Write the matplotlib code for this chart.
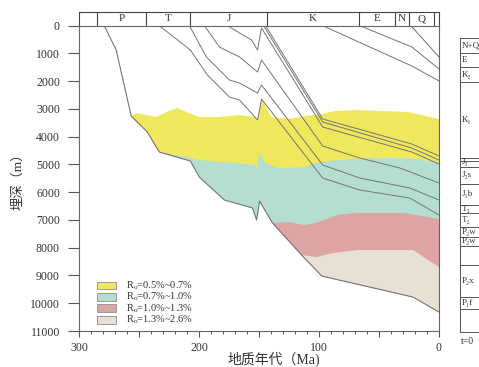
import numpy as np
import matplotlib.pyplot as plt
from matplotlib.patches import Rectangle
from matplotlib.ticker import MultipleLocator, FuncFormatter

plt.rcParams['font.family'] = ['Liberation Serif', 'Noto Sans CJK SC', 'DejaVu Sans']
plt.rcParams['mathtext.fontset'] = 'custom'
plt.rcParams['mathtext.rm'] = 'Liberation Serif'
plt.rcParams['mathtext.it'] = 'Liberation Serif:italic'

# 盆地底界（埋藏史最下面的线）
base_age = [279.0, 269.0, 256.5, 243.1, 233.1, 207.2, 199.7, 178.8, 155.4, 152.0, 149.5,
            143.7, 138.7, 114.5, 97.7, 21.7, 0]
base_dep = [0, 876, 3254, 3831, 4552, 4876, 5457, 6281, 6569, 7002, 6317,
            6750, 7110, 8263, 9020, 9777, 10317]

# Ro 等值线 (上界)
ro05_age = [256.5, 252.3, 243.9, 235.6, 227.2, 218.0, 210.5, 199.7, 183.0, 166.2, 153.7,
            151.2, 147.9, 139.5, 126.1, 111.9, 97.7, 86.9, 70.2, 25.9, 0]
ro05_dep = [3254, 3146, 3218, 3290, 3110, 2966, 3110, 3290, 3290, 3218, 3290,
            3434, 2642, 3290, 3362, 3254, 3182, 3074, 3038, 3110, 3362]

ro07_age = [233.1, 218.9, 199.7, 183.0, 166.2, 153.7, 152.0, 149.5, 145.4, 134.5, 111.9,
            103.6, 84.4, 56.0, 28.4, 0]
ro07_dep = [4552, 4660, 4840, 4912, 4948, 5020, 5128, 4552, 4912, 5128, 5092,
            4948, 4840, 4768, 4768, 4912]

ro10_age = [138.7, 126.1, 111.9, 102.8, 84.4, 70.2, 28.4, 0]
ro10_dep = [7110, 7074, 7182, 7110, 6822, 6750, 6750, 6966]

ro13_age = [114.5, 101.9, 88.6, 68.5, 21.7, 0]
ro13_dep = [8263, 8335, 8191, 8083, 8083, 8696]

ro_labels = ['0.5%~0.7%', '0.7%~1.0%', '1.0%~1.3%', '1.3%~2.6%']
ro_colors = ['#f0e85c', '#b4dfd0', '#dea3a3', '#e8e0d3']

# 各层埋藏曲线
horizons = [
    ([23.4, 0], [0, 1128]),
    ([66.0, 22.6, 0], [0, 768, 1560]),
    ([96.9, 22.6, 0], [0, 1452, 1993]),
    ([144.5, 96.9, 22.6, 0], [0, 3362, 4263, 4696]),
    ([146.2, 96.9, 22.6, 0], [0, 3471, 4408, 4840]),
    ([176.3, 166.2, 156.2, 151.2, 147.9, 96.9, 22.6, 0],
     [0, 263, 515, 876, 83, 3651, 4552, 4984]),
    ([195.5, 183.0, 166.2, 151.2, 147.9, 96.9, 66.0, 32.6, 0],
     [0, 768, 1128, 1669, 1236, 4336, 4768, 5128, 5669]),
    ([208.0, 193.8, 174.6, 166.2, 151.2, 147.9, 96.9, 66.0, 24.2, 0],
     [0, 1128, 1957, 2065, 2425, 2137, 5020, 5489, 5849, 6281]),
    ([233.1, 207.2, 193.0, 174.6, 166.2, 151.2, 147.9, 96.9, 66.0, 24.2, 0],
     [0, 876, 1777, 2570, 2678, 3398, 2642, 5489, 5921, 6210, 6822]),
]

# 地层柱（顶部）
period_bounds = [300, 285.1, 244.2, 207.4, 143.4, 66.6, 36.8, 24.8, 4.2, 0]
period_names = ['', 'P', 'T', 'J', 'K', 'E', 'N', 'Q', '']

# 右侧现今地层表
col_rows = [37.7, 52.7, 67.3, 82.3, 158.3, 160.7, 166.7, 184, 205, 213.3, 226.7,
            236.7, 245.7, 265, 297.3, 309, 331.7]
col_names = [('N+Q', 45.2), ('E', 60), ('K₂', 74.8), ('K₁', 120.3), ('J₃', 162),
             ('J₂s', 175.3), ('J₁b', 194.5), ('T₃', 209.2), ('T₂', 220),
             ('P₂w', 231.7), ('P₂w', 241.2), ('P₂x', 281.2), ('P₁f', 303.2)]


def fill_to_base(ax, age, dep, color):
    a0 = age[0]
    pa = list(age) + [a for a in base_age[::-1] if a < a0]
    pd_ = list(dep) + [d for a, d in zip(base_age[::-1], base_dep[::-1]) if a < a0]
    ax.fill(pa, pd_, color=color, lw=0, zorder=1)


fig = plt.figure(figsize=(4.79, 3.67), dpi=100)
ax = fig.add_axes([79/479, 1-331/367, 360/479, 305.3/367])

tops = [(ro05_age, ro05_dep), (ro07_age, ro07_dep), (ro10_age, ro10_dep), (ro13_age, ro13_dep)]
for (a, d), c in zip(tops, ro_colors):
    fill_to_base(ax, a, d, c)

lc = '#747474'
for a, d in horizons:
    ax.plot(a, d, color=lc, lw=0.7, zorder=2)
ax.plot(base_age, base_dep, color=lc, lw=0.8, zorder=2)

ax.set_xlim(300, 0)
ax.set_ylim(11000, 0)
ax.set_yticks(np.arange(0, 11001, 1000))
ax.xaxis.set_major_locator(MultipleLocator(50))
ax.xaxis.set_minor_locator(MultipleLocator(10))
ax.xaxis.set_major_formatter(FuncFormatter(lambda v, p: '%d' % v if v % 100 == 0 else ''))
ax.tick_params(axis='y', length=7.7, width=0.8, pad=6, labelsize=8.5, colors='#555', labelcolor='#333')
ax.tick_params(axis='x', which='major', length=4.5, width=0.8, pad=3.5, labelsize=8.5,
               colors='#555', labelcolor='#333')
ax.tick_params(axis='x', which='minor', length=2.5, width=0.7, colors='#555')
for s in ax.spines.values():
    s.set_color('#666')
    s.set_linewidth(0.8)

# 顶部地层柱
box_top = -494
bc = '#444'
ax.plot([300, 0], [box_top, box_top], color=bc, lw=0.8, clip_on=False)
for b in period_bounds:
    ax.plot([b, b], [0, box_top], color=bc, lw=0.8, clip_on=False)
for i, name in enumerate(period_names):
    if name:
        xm = (period_bounds[i] + period_bounds[i+1]) / 2
        ax.text(xm, box_top/2, name, ha='center', va='center', fontsize=8, color='#333')

ax.set_xlabel('地质年代（Ma)', fontsize=10, color='#333')
ax.xaxis.set_label_coords(0.54, -0.069)
ax.set_ylabel('埋深（m）', fontsize=9.5, color='#333', labelpad=4)

# 图例（手动排布）
leg_y = [0.149, 0.111, 0.0744, 0.036]
for c, t, yc in zip(ro_colors, ro_labels, leg_y):
    ax.add_patch(Rectangle((0.049, yc - 0.0126), 0.0536, 0.0252, transform=ax.transAxes,
                           facecolor=c, edgecolor='#999', lw=0.7, zorder=3))
    ax.text(0.1306, yc, r'R$_\mathrm{o}$=' + t, transform=ax.transAxes, ha='left',
            va='center', fontsize=7.5, color='#333', zorder=3)

# 右侧地层表（被裁切）
tab = fig.add_axes([0, 0, 1, 1])
tab.set_xlim(0, 479)
tab.set_ylim(367, 0)
tab.axis('off')
tab.plot([460.5, 460.5], [col_rows[0], col_rows[-1]], color='#555', lw=0.7)
for r in col_rows:
    tab.plot([460.5, 490], [r, r], color='#555', lw=0.7)
for name, y in col_names:
    tab.text(462, y, name, ha='left', va='center', fontsize=6.5, color='#333')
tab.text(461, 341, 't=0', ha='left', va='center', fontsize=7, color='#333')

fig.savefig('out.png', dpi=100)
